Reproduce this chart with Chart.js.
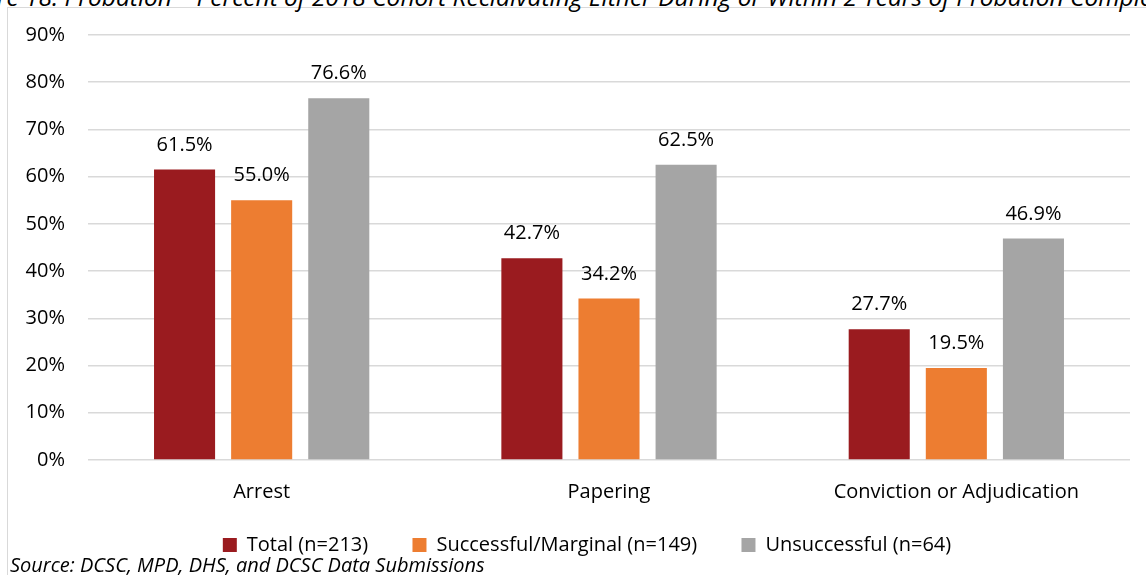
<!DOCTYPE html>
<html>
<head>
<meta charset="utf-8">
<script src="https://cdn.jsdelivr.net/npm/chart.js@4/dist/chart.umd.min.js"></script>
<style>
  html, body { margin: 0; padding: 0; background: #fff; }
  #wrap { position: relative; width: 1146px; height: 575px; overflow: hidden; background: #fff; }
  #frame { position: absolute; left: 7px; top: 7px; width: 1200px; height: 620px; border: 1.5px solid #d9d9d9; box-sizing: border-box; }
  #title { position: absolute; left: -48px; top: -15px; line-height: 24px; white-space: nowrap; font-family: 'Open Sans', sans-serif; font-style: italic; font-size: 24.5px; color: #000; }
  #source { position: absolute; left: 10px; top: 555px; line-height: 20px; white-space: nowrap; font-family: 'Open Sans', sans-serif; font-style: italic; font-size: 20px; color: #000; }
  #cv { position: absolute; left: 0; top: 0; }
</style>
</head>
<body>
<div id="wrap">
  <div id="frame"></div>
  <div id="title">Figure 18. Probation – Percent of 2018 Cohort Recidivating Either During or Within 2 Years of Probation Completion</div>
  <canvas id="cv" width="1146" height="575"></canvas>
  <div id="source">Source: DCSC, MPD, DHS, and DCSC Data Submissions</div>
</div>
<script>
const categories = ['Arrest', 'Papering', 'Conviction or Adjudication'];
const seriesNames = ['Total (n=213)', 'Successful/Marginal (n=149)', 'Unsuccessful (n=64)'];
const totalValues = [61.5, 42.7, 27.7];
const successfulValues = [55.0, 34.2, 19.5];
const unsuccessfulValues = [76.6, 62.5, 46.9];
const yTicks = [0, 10, 20, 30, 40, 50, 60, 70, 80, 90];
const colors = ['#9A1B1F', '#ED7D31', '#A5A5A5'];

const FONT = "'Open Sans', sans-serif";

const valueLabels = {
  id: 'valueLabels',
  afterDatasetsDraw(chart) {
    const ctx = chart.ctx;
    ctx.save();
    ctx.font = '20px ' + FONT;
    ctx.fillStyle = '#000';
    ctx.textAlign = 'center';
    ctx.textBaseline = 'alphabetic';
    chart.data.datasets.forEach((ds, i) => {
      const meta = chart.getDatasetMeta(i);
      meta.data.forEach((bar, j) => {
        ctx.fillText(ds.data[j].toFixed(1) + '%', bar.x, bar.y - 19);
      });
    });
    ctx.restore();
  }
};

const legendShift = {
  id: 'legendShift',
  afterLayout(chart) {
    if (chart.legend) {
      chart.legend.left += 22;
      chart.legend.right += 22;
    }
  }
};

new Chart(document.getElementById('cv'), {
  type: 'bar',
  data: {
    labels: categories,
    datasets: [
      { label: seriesNames[0], data: totalValues, backgroundColor: colors[0] },
      { label: seriesNames[1], data: successfulValues, backgroundColor: colors[1] },
      { label: seriesNames[2], data: unsuccessfulValues, backgroundColor: colors[2] }
    ]
  },
  options: {
    responsive: false,
    animation: false,
    devicePixelRatio: 1,
    categoryPercentage: 0.666,
    barPercentage: 0.792,
    layout: { padding: { top: 29, right: 16, bottom: 10, left: 0 } },
    plugins: {
      legend: {
        position: 'bottom',
        labels: {
          font: { family: FONT, size: 20 },
          color: '#000',
          boxWidth: 14,
          boxHeight: 14,
          padding: 31,
          generateLabels(chart) {
            const items = Chart.defaults.plugins.legend.labels.generateLabels(chart);
            items.forEach((it, i) => { if (i < items.length - 1) it.text = it.text + '\u2002\u2009'; });
            return items;
          }
        }
      },
      tooltip: { enabled: false },
      title: { display: false }
    },
    scales: {
      x: {
        afterFit(scale) { scale.height = 44; },
        grid: { display: false, drawTicks: false },
        border: { display: false },
        ticks: { font: { family: FONT, size: 20 }, color: '#000', padding: 20 }
      },
      y: {
        min: 0, max: 90,
        afterBuildTicks(scale) { scale.ticks = yTicks.map(v => ({ value: v })); },
        afterFit(scale) { scale.width = 88; },
        grid: { color: '#d9d9d9', lineWidth: 1.5, drawTicks: false },
        border: { display: false },
        ticks: { font: { family: FONT, size: 20 }, color: '#000', padding: 23, callback: v => v + '%' }
      }
    }
  },
  plugins: [valueLabels, legendShift]
});
</script>
</body>
</html>
